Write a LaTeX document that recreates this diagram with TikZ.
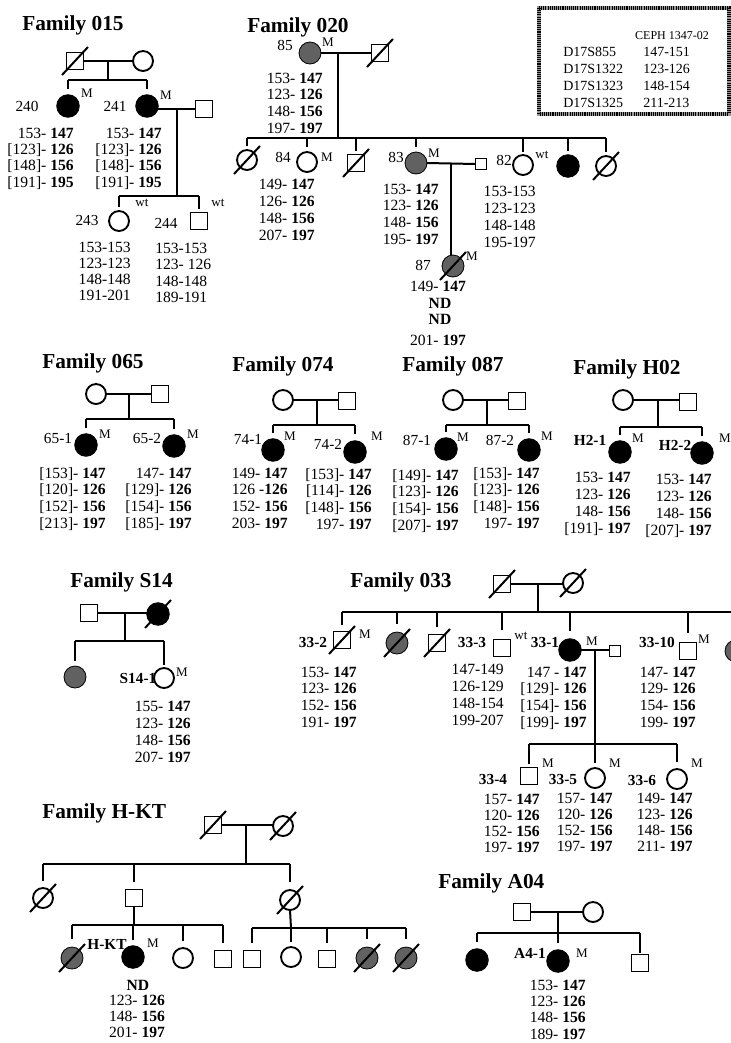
\documentclass[tikz,border=0pt]{standalone}
\usepackage{fontspec}
\setmainfont{Liberation Serif}
\usetikzlibrary{calc}
\newcommand\datf{\fontsize{11.7}{13}\selectfont}
\newcommand\lblf{\fontsize{11.5}{13}\selectfont}
\newcommand\supf{\fontsize{9.8}{11}\selectfont}
\newcommand\ttlf{\fontsize{16}{18}\selectfont\bfseries}
\newcommand\cephf{\fontsize{10.5}{12}\selectfont}
\newcommand\nb[1]{\textbf{#1}}
\tikzset{
 sq/.style={draw, line width=1.4pt, minimum size=12.75pt, inner sep=0pt, outer sep=0pt},
 ssq/.style={sq, minimum size=8.25pt},
 oc/.style={circle, draw, line width=1.4pt, minimum size=15pt, inner sep=0pt, outer sep=0pt},
 fc/.style={circle, draw, fill=black, line width=0.6pt, minimum size=17pt, inner sep=0pt, outer sep=0pt},
 sc/.style={circle, draw, fill=black!62, line width=0.6pt, minimum size=16.5pt, inner sep=0pt, outer sep=0pt},
 conn/.style={line width=1.5pt},
 lbl/.style={font=\lblf, inner sep=0pt},
 blbl/.style={font=\lblf\bfseries, inner sep=0pt},
 supl/.style={font=\supf, inner sep=0pt},
 ttl/.style={font=\ttlf, inner sep=0pt, anchor=west},
 gt/.style={font=\datf, inner sep=0pt},
 cephtxt/.style={font=\cephf, inner sep=0pt, anchor=base west},
}
\newcommand\dead[1]{\draw[conn] ($(#1.center)+(-13,14)$) -- ($(#1.center)+(13,-14)$);}
\newcommand\drop[3]{\draw[conn] (#2.north |- #1) -- ([yshift=#3]#2.north);}
% anchor, name, x, y (first line centre), dy, four lines
\newcommand\gd[9]{%
  \node[gt, anchor=#1] (#2-1) at (#3,#4+5) {#6};
  \node[gt, anchor=#1] (#2-2) at (#3,#4+5+#5) {#7};
  \node[gt, anchor=#1] (#2-3) at (#3,#4+5+2*#5) {#8};
  \node[gt, anchor=#1] (#2-4) at (#3,#4+5+3*#5) {#9};}
\begin{document}
\begin{tikzpicture}[x=0.75pt,y=-0.75pt]
\useasboundingbox (0,0) rectangle (731,1043);
\clip (0,0) rectangle (731,1043);
\fill[white] (0,0) rectangle (731,1043);

% ================= Family 015
\node[ttl] (t015) at (22,25) {Family 015};
\node[sq] (f015) at (75,61) {}; \dead{f015}
\node[oc] (m015) at (143,61) {};
\coordinate (k015) at (108,61); \coordinate (s015) at (108,80);
\draw[conn] (f015.east) -- (m015.west); \draw[conn] (k015) -- (s015);
\node[fc] (c240) at (68,106) {};
\node[fc] (c241) at (147,106) {};
\draw[conn] (c240.north |- s015) -- (c241.north |- s015);
\drop{s015}{c240}{4pt} \drop{s015}{c241}{4pt}
\node[lbl] (l240) at (27,106) {240};
\node[lbl] (l241) at (115,106) {241};
\node[supl] (M240) at (87,93) {M};
\node[supl] (M241) at (166,95) {M};
\node[sq] (h241) at (204,109) {};
\coordinate (k241) at (177,109); \coordinate (s241) at (177,196);
\draw[conn] (c241.east |- k241) -- (h241.west); \draw[conn] (k241) -- (s241);
\node[oc] (c243) at (119,221) {};
\node[sq] (c244) at (199,221) {};
\draw[conn] (c243.north |- s241) -- (c244.north |- s241);
\drop{s241}{c243}{3pt} \drop{s241}{c244}{3pt}
\node[lbl] (l243) at (87,220) {243};
\node[lbl] (l244) at (166,223) {244};
\node[supl] (w243) at (142,203) {wt};
\node[supl] (w244) at (218,203) {wt};
\gd{base east}{d240}{74}{133}{16.4}{153- \nb{147}}{[123]- \nb{126}}{[148]- \nb{156}}{[191]- \nb{195}}
\gd{base east}{d241}{162}{133}{16.4}{153- \nb{147}}{[123]- \nb{126}}{[148]- \nb{156}}{[191]- \nb{195}}
\gd{base east}{d243}{131}{247}{16.2}{153-153}{123-123}{148-148}{191-201}
\gd{base west}{d244}{155}{248}{16.5}{153-153}{123- 126}{148-148}{189-191}

% ================= Family 020
\node[ttl] (t020) at (247,27) {Family 020};
\node[sc] (c85) at (310,53) {};
\node[sq] (h85) at (380,53) {}; \dead{h85}
\coordinate (k020) at (338,53); \coordinate (s020) at (338,138);
\draw[conn] (c85.east) -- (h85.west); \draw[conn] (k020) -- (s020);
\node[lbl] (l85) at (285,45) {85};
\node[supl] (M85) at (328,42) {M};
\gd{base east}{d85}{323}{78}{16.7}{153- \nb{147}}{123- \nb{126}}{148- \nb{156}}{197- \nb{197}}
\node[oc] (c20a) at (247,160) {}; \dead{c20a}
\node[oc] (c84) at (307,162) {};
\node[sq] (c20c) at (356,163) {}; \dead{c20c}
\node[sc] (c83) at (416,163) {};
\node[oc] (c82) at (523,165) {};
\node[fc] (c20f) at (568,166) {};
\node[oc] (c20g) at (606,166) {}; \dead{c20g}
\draw[conn] (c20a.north |- s020) -- (c20g.north |- s020);
\drop{s020}{c20a}{3pt} \drop{s020}{c84}{4pt} \drop{s020}{c20c}{3pt}
\drop{s020}{c83}{4pt} \drop{s020}{c82}{2pt} \drop{s020}{c20f}{3pt} \drop{s020}{c20g}{3pt}
\node[lbl] (l84) at (283,157) {84};
\node[supl] (M84) at (327,157) {M};
\node[lbl] (l83) at (396,157) {83};
\node[supl] (M83) at (434,153) {M};
\node[lbl] (l82) at (504,160) {82};
\node[supl] (w82) at (542,155) {wt};
\gd{base east}{d84}{315}{184}{17}{149- \nb{147}}{126- \nb{126}}{148- \nb{156}}{207- \nb{197}}
\gd{base east}{d83}{439}{189}{16.7}{153- \nb{147}}{123- \nb{126}}{148- \nb{156}}{195- \nb{197}}
\gd{base east}{d82}{536}{191}{17}{153-153}{123-123}{148-148}{195-197}
\node[ssq] (h83) at (481,164) {};
\coordinate (k83) at (451,164);
\draw[conn] (c83.east) -- (h83.west);
\node[sc] (c87) at (453,266) {}; \dead{c87}
\draw[conn] (k83) -- (k83 |- c87.north);
\node[lbl] (l87) at (423,265) {87};
\node[supl] (M87) at (472,256) {M};
\node[gt, anchor=base] (d87-1) at (438,291) {149- \nb{147}};
\node[gt, anchor=base] (d87-2) at (440,308) {\nb{ND}};
\node[gt, anchor=base] (d87-3) at (440,324) {\nb{ND}};
\node[gt, anchor=base] (d87-4) at (438,345) {201- \nb{197}};

% ================= CEPH box
\draw[line width=3.6pt, black!40] (539,8) rectangle (729,114);
\draw[line width=3.6pt, black, dash pattern=on 0.8pt off 0.8pt] (539,8) rectangle (729,114);
\node[font=\fontsize{9}{11}\selectfont, inner sep=0pt] (ceph) at (672,36) {CEPH 1347-02};
\node[cephtxt] (mk1) at (563,56) {D17S855};
\node[cephtxt] (mk2) at (563,73) {D17S1322};
\node[cephtxt] (mk3) at (563,90) {D17S1323};
\node[cephtxt] (mk4) at (563,107) {D17S1325};
\node[cephtxt] (al1) at (643,56) {147-151};
\node[cephtxt] (al2) at (643,73) {123-126};
\node[cephtxt] (al3) at (643,90) {148-154};
\node[cephtxt] (al4) at (643,107) {211-213};

% ================= Family 065
\node[ttl] (t065) at (42,363) {Family 065};
\node[oc] (m065) at (96,394) {};
\node[sq] (f065) at (160,394) {};
\coordinate (k065) at (129,394); \coordinate (s065) at (129,419);
\draw[conn] (m065.east) -- (f065.west); \draw[conn] (k065) -- (s065);
\node[fc] (c651) at (86,445) {};
\node[fc] (c652) at (174,446) {};
\draw[conn] (c651.north |- s065) -- (c652.north |- s065);
\drop{s065}{c651}{4pt} \drop{s065}{c652}{4pt}
\node[lbl] (l651) at (58,438) {65-1};
\node[supl] (M651) at (105,434) {M};
\node[lbl] (l652) at (147,438) {65-2};
\node[supl] (M652) at (193,434) {M};
\gd{base east}{d651}{106}{473}{16.7}{[153]- \nb{147}}{[120]- \nb{126}}{[152]- \nb{156}}{[213]- \nb{197}}
\gd{base east}{d652}{192}{473}{16.7}{147- \nb{147}}{[129]- \nb{126}}{[154]- \nb{156}}{[185]- \nb{197}}

% ================= Family 074
\node[ttl] (t074) at (232,366) {Family 074};
\node[oc] (m074) at (283,400) {};
\node[sq] (f074) at (347,401) {};
\coordinate (k074) at (317,400); \coordinate (s074) at (317,425);
\draw[conn] (m074.east) -- (f074.west |- m074); \draw[conn] (k074) -- (s074);
\node[fc] (c741) at (273,450) {};
\node[fc] (c742) at (355,452) {};
\draw[conn] (c741.north |- s074) -- (c742.north |- s074);
\drop{s074}{c741}{4pt} \drop{s074}{c742}{5pt}
\node[lbl] (l741) at (248,439) {74-1};
\node[supl] (M741) at (290,436) {M};
\node[lbl] (l742) at (328,444) {74-2};
\node[supl] (M742) at (377,436) {M};
\gd{base east}{d741}{288}{473}{16.7}{149- \nb{147}}{126 -\nb{126}}{152- \nb{156}}{203- \nb{197}}
\gd{base east}{d742}{372}{474}{16.7}{[153]- \nb{147}}{[114]- \nb{126}}{[148]- \nb{156}}{197- \nb{197}}

% ================= Family 087
\node[ttl] (t087) at (402,366) {Family 087};
\node[oc] (m087) at (453,400) {};
\node[sq] (f087) at (517,401) {};
\coordinate (k087) at (487,400); \coordinate (s087) at (487,425);
\draw[conn] (m087.east) -- (f087.west |- m087); \draw[conn] (k087) -- (s087);
\node[fc] (c871) at (446,449) {};
\node[fc] (c872) at (529,450) {};
\draw[conn] (c871.north |- s087) -- (c872.north |- s087);
\drop{s087}{c871}{4pt} \drop{s087}{c872}{4pt}
\node[lbl] (l871) at (417,440) {87-1};
\node[supl] (M871) at (463,437) {M};
\node[lbl] (l872) at (500,440) {87-2};
\node[supl] (M872) at (547,436) {M};
\gd{base east}{d871}{459}{475}{16.7}{[149]- \nb{147}}{[123]- \nb{126}}{[154]- \nb{156}}{[207]- \nb{197}}
\gd{base east}{d872}{540}{473}{16.7}{[153]- \nb{147}}{[123]- \nb{126}}{[148]- \nb{156}}{197- \nb{197}}

% ================= Family H02
\node[ttl] (tH02) at (573,369) {Family H02};
\node[oc] (mH02) at (623,400) {};
\node[sq] (fH02) at (688,402) {};
\coordinate (kH02) at (658,401); \coordinate (sH02) at (658,427);
\draw[conn] (mH02.east) -- (fH02.west |- mH02); \draw[conn] (kH02) -- (sH02);
\node[fc] (cH21) at (620,452) {};
\node[fc] (cH22) at (702,453) {};
\draw[conn] (cH21.north |- sH02) -- (cH22.north |- sH02);
\drop{sH02}{cH21}{4pt} \drop{sH02}{cH22}{4pt}
\node[blbl] (lH21) at (590,440) {H2-1};
\node[supl] (MH21) at (638,438) {M};
\node[blbl] (lH22) at (675,445) {H2-2};
\node[supl] (MH22) at (725,438) {M};
\gd{base east}{dH21}{631}{477}{17}{153- \nb{147}}{123- \nb{126}}{148- \nb{156}}{[191]- \nb{197}}
\gd{base east}{dH22}{712}{479}{17}{153- \nb{147}}{123- \nb{126}}{148- \nb{156}}{[207]- \nb{197}}

% ================= Family S14
\node[ttl] (tS14) at (70,582) {Family S14};
\node[sq] (fS14) at (89,613) {};
\node[fc] (mS14) at (158,614) {}; \dead{mS14}
\coordinate (kS14) at (125,613); \coordinate (sS14) at (125,641);
\draw[conn] (fS14.east) -- (mS14.west |- fS14); \draw[conn] (kS14) -- (sS14);
\node[sc] (cS1) at (75,677) {};
\node[oc] (cS2) at (164,678) {};
\draw[conn] (cS1.north |- sS14) -- (cS2.north |- sS14);
\drop{sS14}{cS1}{4pt} \drop{sS14}{cS2}{2pt}
\node[blbl] (lS2) at (138,678) {S14-1};
\node[supl] (MS2) at (182,672) {M};
\gd{base east}{dS2}{191}{706}{17}{155- \nb{147}}{123- \nb{126}}{148- \nb{156}}{207- \nb{197}}

% ================= Family 033
\node[ttl] (t033) at (350,582) {Family 033};
\node[sq] (f033) at (502,584) {}; \dead{f033}
\node[oc] (m033) at (573,583) {}; \dead{m033}
\coordinate (k033) at (538,584); \coordinate (s033) at (538,612);
\coordinate (e033) at (745,612);
\draw[conn] (f033.east) -- (m033.west |- f033); \draw[conn] (k033) -- (s033);
\node[sq] (c332) at (342,640) {}; \dead{c332}
\node[sc] (c33b) at (397,643) {}; \dead{c33b}
\node[sq] (c33c) at (437,643) {}; \dead{c33c}
\node[sq] (c333) at (502,648) {};
\node[fc] (c331) at (570,650) {};
\node[sq] (c3310) at (688,651) {};
\node[sc] (c33z) at (736,651) {};
\draw[conn] (c332.north |- s033) -- (e033);
\drop{s033}{c332}{5pt} \drop{s033}{c33b}{6pt} \drop{s033}{c33c}{6pt}
\drop{s033}{c333}{7pt} \drop{s033}{c331}{6pt} \drop{s033}{c3310}{7pt} \drop{s033}{c33z}{6pt}
\node[blbl] (l332) at (313,642) {33-2};
\node[supl] (M332) at (365,634) {M};
\node[blbl] (l333) at (472,642) {33-3};
\node[supl] (w333) at (521,636) {wt};
\node[blbl] (l331) at (545,642) {33-1};
\node[supl] (M331) at (592,641) {M};
\node[blbl] (l3310) at (657,642) {33-10};
\node[supl] (M3310) at (704,639) {M};
\gd{base east}{d332}{357}{672}{16.7}{153- \nb{147}}{123- \nb{126}}{152- \nb{156}}{191- \nb{197}}
\gd{base east}{d333}{504}{669}{17}{147-149}{126-129}{148-154}{199-207}
\gd{base east}{d331}{587}{672}{16.7}{147 - \nb{147}}{[129]- \nb{126}}{[154]- \nb{156}}{[199]- \nb{197}}
\gd{base east}{d3310}{696}{672}{16.7}{147- \nb{147}}{129- \nb{126}}{154- \nb{156}}{199- \nb{197}}
\node[ssq] (h331) at (615,651) {};
\coordinate (k331) at (595,650); \coordinate (s331) at (595,744);
\draw[conn] (c331.east |- k331) -- (h331.west |- k331); \draw[conn] (k331) -- (s331);
\node[sq] (c334) at (529,776) {};
\node[oc] (c335) at (595,778) {};
\node[oc] (c336) at (677,779) {};
\draw[conn] (c334.north |- s331) -- (c336.north |- s331);
\drop{s331}{c334}{3pt} \drop{s331}{c335}{4pt} \drop{s331}{c336}{5pt}
\node[blbl] (l334) at (493,779) {33-4};
\node[supl] (M334) at (548,763) {M};
\node[blbl] (l335) at (563,779) {33-5};
\node[supl] (M335) at (615,763) {M};
\node[blbl] (l336) at (642,780) {33-6};
\node[supl] (M336) at (697,763) {M};
\gd{base east}{d334}{540}{799}{16}{157- \nb{147}}{120- \nb{126}}{152- \nb{156}}{197- \nb{197}}
\gd{base east}{d335}{613}{798}{16}{157- \nb{147}}{120- \nb{126}}{152- \nb{156}}{197- \nb{197}}
\gd{base east}{d336}{693}{798}{16}{149- \nb{147}}{123- \nb{126}}{148- \nb{156}}{211- \nb{197}}

% ================= Family H-KT
\node[ttl] (tHKT) at (42,813) {Family H-KT};
\node[sq] (fHK) at (213,825) {}; \dead{fHK}
\node[oc] (mHK) at (283,826) {}; \dead{mHK}
\coordinate (kHK) at (246,825); \coordinate (sHK) at (246,864);
\draw[conn] (fHK.east) -- (mHK.west |- fHK); \draw[conn] (kHK) -- (sHK);
\node[oc] (g2a) at (43,898) {}; \dead{g2a}
\node[sq] (g2b) at (134,898) {};
\node[oc] (g2c) at (290,900) {}; \dead{g2c}
\draw[conn] (g2a.north |- sHK) -- (g2c.north |- sHK);
\drop{sHK}{g2a}{5pt} \drop{sHK}{g2b}{6pt} \drop{sHK}{g2c}{6pt}
\coordinate (sb) at (134,925); \coordinate (sc2) at (291,928);
\draw[conn] (g2b.south) -- (sb); \draw[conn] (g2c.south) -- (sc2);
\node[sc] (g3a) at (72,958) {}; \dead{g3a}
\node[fc] (g3b) at (133,957) {};
\node[oc] (g3c) at (183,958) {};
\node[sq] (g3d) at (223,959) {};
\node[sq] (g3e) at (252,959) {};
\node[oc] (g3f) at (291,957) {};
\node[sq] (g3g) at (327,959) {};
\node[sc] (g3h) at (367,958) {}; \dead{g3h}
\node[sc] (g3i) at (406,958) {}; \dead{g3i}
\draw[conn] (g3a.north |- sb) -- (g3d.north |- sb);
\drop{sb}{g3a}{6pt} \drop{sb}{g3b}{4pt} \drop{sb}{g3c}{5pt} \drop{sb}{g3d}{6pt}
\draw[conn] (g3e.north |- sc2) -- (g3i.north |- sc2);
\drop{sc2}{g3e}{6pt} \drop{sc2}{g3f}{4pt} \drop{sc2}{g3g}{6pt} \drop{sc2}{g3h}{6pt} \drop{sc2}{g3i}{6pt}
\node[blbl] (lHK) at (107,944) {H-KT};
\node[supl] (MHK) at (153,943) {M};
\node[gt, anchor=base] (dHK-1) at (138,990) {\nb{ND}};
\node[gt, anchor=base] (dHK-2) at (137,1005) {123- \nb{126}};
\node[gt, anchor=base] (dHK-3) at (137,1021) {148- \nb{156}};
\node[gt, anchor=base] (dHK-4) at (137,1037) {201- \nb{197}};

% ================= Family A04
\node[ttl] (tA04) at (438,883) {Family A04};
\node[sq] (fA04) at (522,912) {};
\node[oc] (mA04) at (593,912) {};
\coordinate (kA04) at (558,912); \coordinate (sA04) at (558,933);
\draw[conn] (fA04.east) -- (mA04.west); \draw[conn] (kA04) -- (sA04);
\node[fc] (cA1) at (477,960) {};
\node[fc] (cA2) at (558,961) {};
\node[sq] (cA3) at (640,963) {};
\draw[conn] (cA1.north |- sA04) -- (cA3.north |- sA04);
\drop{sA04}{cA1}{5pt} \drop{sA04}{cA2}{5pt} \drop{sA04}{cA3}{1pt}
\node[blbl] (lA2) at (530,953) {A4-1};
\node[supl] (MA2) at (582,953) {M};
\gd{base east}{dA2}{586}{985}{16.4}{153- \nb{147}}{123- \nb{126}}{148- \nb{156}}{189- \nb{197}}
\end{tikzpicture}
\end{document}
